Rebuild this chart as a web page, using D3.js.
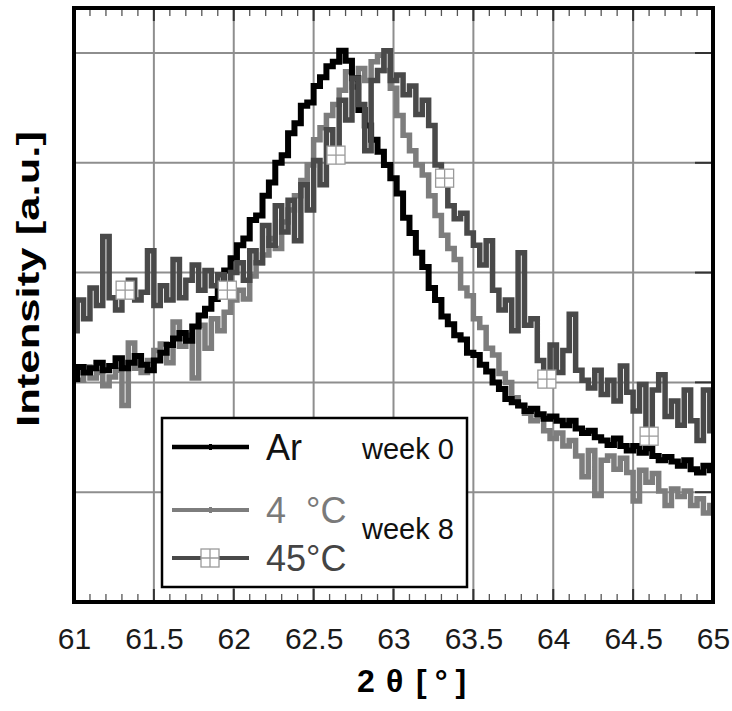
<!DOCTYPE html>
<html>
<head>
<meta charset="utf-8">
<title>XRD peak, week 0 / week 8</title>
<script src="https://cdn.jsdelivr.net/npm/d3@7"></script>
<style>
body { margin: 0; background: #fff; }
text { font-family: "Liberation Sans", Arial, sans-serif; }
</style>
</head>
<body>
<script>
// 2theta sampling, 0.04 deg step from 61 to 65
var theta = d3.range(101).map(function(i) { return +(61 + i * 0.04).toFixed(2); });

// intensities (one grid step = 1 a.u.)
var ar = [2.03, 2.14, 2.09, 2.13, 2.18, 2.11, 2.15, 2.22, 2.13, 2.18,
  2.24, 2.16, 2.11, 2.20, 2.27, 2.34, 2.40, 2.45, 2.38, 2.51,
  2.61, 2.67, 2.76, 2.88, 3.02, 3.13, 3.25, 3.31, 3.48, 3.52,
  3.70, 3.82, 4.00, 4.07, 4.27, 4.36, 4.52, 4.55, 4.70, 4.78,
  4.88, 4.92, 5.02, 4.93, 4.77, 4.48, 4.34, 4.21, 4.10, 3.98,
  3.86, 3.72, 3.50, 3.36, 3.18, 3.05, 2.86, 2.75, 2.60, 2.53,
  2.43, 2.39, 2.27, 2.25, 2.16, 2.10, 2.00, 1.94, 1.85, 1.82,
  1.79, 1.74, 1.76, 1.71, 1.67, 1.69, 1.65, 1.61, 1.65, 1.58,
  1.54, 1.56, 1.50, 1.47, 1.43, 1.49, 1.42, 1.38, 1.42, 1.36,
  1.40, 1.33, 1.29, 1.32, 1.28, 1.24, 1.29, 1.21, 1.18, 1.24,
  1.20];

var c4 = [2.09, 2.02, 2.14, 2.04, 2.09, 1.97, 2.05, 2.11, 1.79, 2.36,
  2.13, 2.09, 2.20, 2.29, 2.35, 2.18, 2.55, 2.33, 2.43, 2.04,
  2.52, 2.31, 2.58, 2.47, 2.64, 2.75, 2.84, 2.76, 2.97, 3.09,
  3.16, 3.31, 3.22, 3.46, 3.57, 3.70, 3.84, 3.98, 4.21, 4.32,
  4.43, 4.53, 4.66, 4.83, 4.69, 4.86, 4.75, 4.92, 4.98, 4.84,
  4.68, 4.43, 4.25, 4.11, 3.98, 3.89, 3.70, 3.52, 3.34, 3.22,
  3.12, 2.86, 2.79, 2.58, 2.50, 2.31, 2.25, 2.08, 2.00, 1.86,
  1.79, 1.72, 1.65, 1.69, 1.56, 1.49, 1.54, 1.42, 1.47, 1.33,
  1.14, 1.38, 0.97, 1.29, 1.33, 1.21, 1.31, 1.18, 0.92, 1.20,
  1.09, 1.17, 1.01, 0.88, 1.03, 0.96, 1.01, 0.88, 0.94, 0.81,
  0.88];

var c45 = [2.47, 2.75, 2.58, 2.86, 2.70, 3.33, 2.77, 2.66, 2.84, 2.93,
  2.75, 2.82, 3.20, 2.70, 2.88, 2.75, 3.12, 2.77, 2.93, 3.07,
  2.84, 3.02, 2.88, 2.98, 2.84, 3.00, 3.09, 2.93, 3.20, 3.09,
  3.43, 3.25, 3.61, 3.37, 3.66, 3.29, 3.80, 3.57, 4.02, 3.80,
  4.30, 4.07, 4.57, 4.39, 4.77, 4.53, 4.11, 4.75, 4.84, 5.02,
  4.75, 4.80, 4.62, 4.70, 4.44, 4.57, 4.34, 3.98, 3.86, 3.61,
  3.49, 3.54, 3.36, 3.25, 3.07, 3.29, 2.84, 2.66, 2.75, 2.47,
  3.18, 2.52, 2.58, 2.20, 2.03, 2.34, 2.09, 2.29, 2.62, 2.11,
  2.02, 1.95, 2.11, 1.89, 2.02, 1.83, 2.15, 1.91, 1.74, 1.98,
  1.51, 1.93, 2.07, 1.69, 1.83, 1.61, 1.93, 1.65, 1.47, 1.93,
  1.56];

var markerTheta = [61.32, 61.96, 62.64, 63.32, 63.96, 64.60];
var xTicks = [61, 61.5, 62, 62.5, 63, 63.5, 64, 64.5, 65];
var yGrid = [1, 2, 3, 4, 5];

var width = 732, height = 711;
var x = d3.scaleLinear().domain([61, 65]).range([74, 713]);
var y = d3.scaleLinear().domain([0, 5.41]).range([602, 8]);

var svg = d3.select("body").append("svg")
  .attr("width", width)
  .attr("height", height);

svg.append("defs").append("clipPath").attr("id", "plot")
  .append("rect")
  .attr("x", x(61)).attr("y", y(5.41))
  .attr("width", x(65) - x(61)).attr("height", y(0) - y(5.41));

// grid
var grid = svg.append("g").attr("stroke", "#8e8e8e").attr("stroke-width", 2);
grid.selectAll("line.v").data(xTicks.slice(1, -1)).enter().append("line")
  .attr("x1", function(d) { return x(d); }).attr("x2", function(d) { return x(d); })
  .attr("y1", y(5.41)).attr("y2", y(0));
grid.selectAll("line.h").data(yGrid).enter().append("line")
  .attr("x1", x(61)).attr("x2", x(65))
  .attr("y1", function(d) { return y(d); }).attr("y2", function(d) { return y(d); });

// minor / major ticks inside the frame
var minor = x.ticks(40).filter(function(d) { return Math.abs(d * 2 - Math.round(d * 2)) > 1e-6; });
var ticks = svg.append("g").attr("stroke", "#555").attr("stroke-width", 1.3);
[y(5.41), y(0)].forEach(function(edge, k) {
  var dir = k === 0 ? 1 : -1;
  ticks.selectAll(null).data(minor).enter().append("line")
    .attr("x1", function(d) { return x(d); }).attr("x2", function(d) { return x(d); })
    .attr("y1", edge).attr("y2", edge + dir * 8);
  ticks.selectAll(null).data(xTicks).enter().append("line")
    .attr("stroke", "#333").attr("stroke-width", 2)
    .attr("x1", function(d) { return x(d); }).attr("x2", function(d) { return x(d); })
    .attr("y1", edge).attr("y2", edge + dir * 13);
});
ticks.selectAll(null).data(yGrid).enter().append("line")
  .attr("stroke", "#333").attr("stroke-width", 2)
  .attr("x1", x(65) - 18).attr("x2", x(65))
  .attr("y1", function(d) { return y(d); }).attr("y2", function(d) { return y(d); });

// curves
var series = [
  {name: "4 °C", values: c4, color: "#7d7d7d", width: 5.5},
  {name: "Ar", values: ar, color: "#000", width: 6},
  {name: "45°C", values: c45, color: "#494949", width: 5.5}
];
var line = d3.line()
  .curve(d3.curveStep)
  .x(function(d) { return x(d[0]); })
  .y(function(d) { return y(d[1]); });

var plot = svg.append("g").attr("clip-path", "url(#plot)");
series.forEach(function(s) {
  plot.append("path")
    .datum(d3.zip(theta, s.values))
    .attr("fill", "none")
    .attr("stroke", s.color)
    .attr("stroke-width", s.width)
    .attr("stroke-linejoin", "miter")
    .attr("d", line);
});

function boxMarker(g, cx, cy) {
  g.append("rect")
    .attr("x", cx - 9).attr("y", cy - 9).attr("width", 18).attr("height", 18)
    .attr("fill", "#fff").attr("stroke", "#9a9a9a").attr("stroke-width", 1.3);
  g.append("path")
    .attr("d", "M" + cx + "," + (cy - 9) + "V" + (cy + 9) + "M" + (cx - 9) + "," + cy + "H" + (cx + 9))
    .attr("stroke", "#9a9a9a").attr("stroke-width", 1.3);
}
markerTheta.forEach(function(t) {
  var i = theta.indexOf(t);
  boxMarker(plot, x(t), y(c45[i]));
});

// frame
svg.append("rect")
  .attr("x", x(61)).attr("y", y(5.41))
  .attr("width", x(65) - x(61)).attr("height", y(0) - y(5.41))
  .attr("fill", "none").attr("stroke", "#000").attr("stroke-width", 4);

// x axis labels
var xAxis = d3.axisBottom(x).tickValues(xTicks).tickSize(0).tickFormat(d3.format("~g"));
var ax = svg.append("g").attr("transform", "translate(0," + y(0) + ")").call(xAxis);
ax.select(".domain").remove();
ax.selectAll("text")
  .attr("y", 47).attr("dy", null)
  .attr("font-size", 30).attr("fill", "#1a1a1a")
  .attr("font-family", "'Liberation Sans', Arial, sans-serif");

// x title, pieces placed like the original spacing
var xt = svg.append("text")
  .attr("y", 692)
  .attr("font-size", 32).attr("font-weight", "bold")
  .attr("font-family", "'Liberation Sans Narrow', 'Liberation Sans', Arial, sans-serif");
xt.append("tspan").attr("x", 357).text("2");
xt.append("tspan").attr("x", 386).text("θ");
xt.append("tspan").attr("x", 416).attr("letter-spacing", 8).text("[°]");

svg.append("text")
  .attr("transform", "translate(39,279) rotate(-90)")
  .attr("text-anchor", "middle")
  .attr("font-size", 32).attr("font-weight", "bold")
  .attr("textLength", 296).attr("lengthAdjust", "spacingAndGlyphs")
  .text("Intensity [a.u.]");

// legend
var lg = svg.append("g");
lg.append("rect")
  .attr("x", 162).attr("y", 418).attr("width", 305).attr("height", 169)
  .attr("fill", "#fff").attr("stroke", "#000").attr("stroke-width", 2.5);

var legendRows = [
  {label: "Ar", color: "#000", text: "#111", ly: 447, ty: 460, w: 4.5, mark: "dot"},
  {label: "4  °C", color: "#7d7d7d", text: "#7a7a7a", ly: 510, ty: 523, w: 4, mark: "dot"},
  {label: "45°C", color: "#494949", text: "#444", ly: 558, ty: 571, w: 4, mark: "box"}
];
legendRows.forEach(function(r) {
  lg.append("line")
    .attr("x1", 172).attr("x2", 249).attr("y1", r.ly).attr("y2", r.ly)
    .attr("stroke", r.color).attr("stroke-width", r.w);
  if (r.mark === "box") boxMarker(lg, 210, r.ly);
  else lg.append("rect").attr("x", 209).attr("y", r.ly - 3).attr("width", 3).attr("height", 6).attr("fill", r.color);
  lg.append("text")
    .attr("x", 266).attr("y", r.ty)
    .attr("font-size", 36).attr("fill", r.text)
    .style("white-space", "pre")
    .text(r.label);
});
lg.append("text").attr("x", 362).attr("y", 459).attr("font-size", 29).attr("fill", "#111").text("week 0");
lg.append("text").attr("x", 362).attr("y", 539).attr("font-size", 29).attr("fill", "#111").text("week 8");
</script>
</body>
</html>
